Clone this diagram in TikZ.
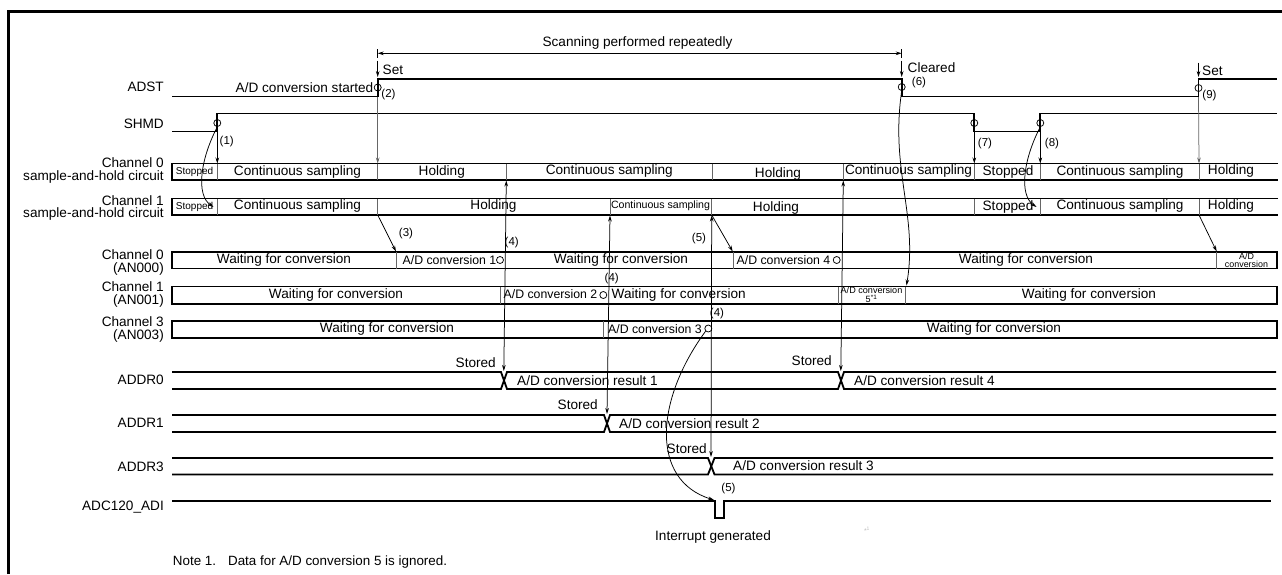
\documentclass[tikz,border=0pt]{standalone}
\usepackage{fontspec}
\setmainfont{Liberation Sans}
\usetikzlibrary{arrows.meta}
\newcommand\FS[1]{\fontsize{#1}{#1}\selectfont}
\tikzset{
  sig/.style={line width=1.8pt, line join=miter},
  divl/.style={line width=0.9pt, draw=black!60},
  arr/.style={line width=0.75pt, -{Stealth[length=6pt,width=3.6pt]}},
  darr/.style={line width=0.75pt, {Stealth[length=6pt,width=3.6pt]}-{Stealth[length=6pt,width=3.6pt]}},
  circ/.style={circle, draw, line width=0.75pt, minimum size=7pt, inner sep=0pt},
  txt/.style={inner sep=0pt, font=\FS{13.6}},
  sm/.style={inner sep=0pt, font=\FS{11.5}},
  mid/.style={inner sep=0pt, font=\FS{12.3}},
  lbl/.style={inner sep=0pt, anchor=east, align=right, font=\fontsize{13.6}{12.5}\selectfont},
}
\begin{document}
\begin{tikzpicture}[x=1pt,y=-1pt]
\useasboundingbox (0,0) rectangle (1282,574);
% frame
\draw[line width=3pt] (8.5,574) -- (8.5,11) -- (1282,11);

% row labels
\node[lbl] (lADST) at (164,87) {ADST};
\node[lbl] (lSHMD) at (164,124) {SHMD};
\node[lbl] (lC0SH) at (164,170.5) {Channel 0\\sample-and-hold circuit};
\node[lbl] (lC1SH) at (164,208) {Channel 1\\sample-and-hold circuit};
\node[lbl] (lAN0) at (164,262.5) {Channel 0\\(AN000)};
\node[lbl] (lAN1) at (164,294.5) {Channel 1\\(AN001)};
\node[lbl] (lAN3) at (164,329.5) {Channel 3\\(AN003)};
\node[lbl] (lR0) at (164,380) {ADDR0};
\node[lbl] (lR1) at (164,423) {ADDR1};
\node[lbl] (lR3) at (164,467) {ADDR3};
\node[lbl] (lADI) at (164,507) {ADC120\_ADI};

% scanning arrow
\coordinate (scL) at (377.7,53.3);
\coordinate (scR) at (901.7,53.3);
\draw[line width=0.8pt] (377.7,49) -- (377.7,58);
\draw[line width=0.8pt] (901.7,49) -- (901.7,58);
\draw[darr] (scL) -- (scR);
\node[txt] (scan) at (637.5,43.3) {Scanning performed repeatedly};

% ADST waveform
\draw[sig] (172,96.5) -- (377.7,96.5) -- (377.7,79) -- (901.7,79) -- (901.7,96.5) -- (1198.5,96.5) -- (1198.5,79) -- (1277,79);
\node[circ] (c2) at (377.7,87.5) {};
\node[circ] (c6) at (901.7,87) {};
\node[circ] (c9) at (1198.5,88) {};
\node[txt, anchor=east] (adst) at (373.5,88) {A/D conversion started};
\node[sm] (n2) at (388.5,94.5) {(2)};
\node[sm] (n6) at (919,83) {(6)};
\node[sm] (n9) at (1209.5,95.5) {(9)};
% Set / Cleared arrows
\coordinate (setA) at (377.7,60.5);
\coordinate (setB) at (377.7,77);
\draw[arr] (setA) -- (setB);
\node[txt, anchor=west] (set1) at (382.5,69.5) {Set};
\coordinate (clrA) at (901.7,60.5);
\coordinate (clrB) at (901.7,77);
\draw[arr] (clrA) -- (clrB);
\node[txt, anchor=west] (clr) at (907.5,67.7) {Cleared};
\coordinate (set2A) at (1198.5,62.5);
\coordinate (set2B) at (1198.5,77);
\draw[arr] (set2A) -- (set2B);
\node[txt, anchor=west] (set2) at (1202,70.7) {Set};

% SHMD waveform
\draw[sig] (172,131.5) -- (217.3,131.5) -- (217.3,113.5) -- (974.3,113.5) -- (974.3,131.5) -- (1040.3,131.5) -- (1040.3,113.5) -- (1277,113.5);
\node[circ] (c1) at (217.3,123) {};
\node[circ] (c7) at (974.3,123) {};
\node[circ] (c8) at (1040.3,123) {};
\node[sm] (n1) at (226.7,141.7) {(1)};
\node[sm] (n7) at (985,144) {(7)};
\node[sm] (n8) at (1052,144) {(8)};

% Channel 0 sample-and-hold
\draw[sig] (1278,163.5) -- (172,163.5) -- (172,180) -- (1278,180);
\foreach \x in {217.3,377.7,506,712.7,843.3,974.3,1040.3,1199} \draw[divl] (\x,163.5) -- (\x,180);
\node[inner sep=0pt, font=\FS{10}] (s0a) at (194.6,172) {Stopped};
\node[txt] (s0b) at (297.5,171.5) {Continuous sampling};
\node[txt] (s0c) at (441.8,171.5) {Holding};
\node[txt] (s0d) at (609.3,171) {Continuous sampling};
\node[txt] (s0e) at (778,173.5) {Holding};
\node[txt] (s0f) at (908.5,171) {Continuous sampling};
\node[txt] (s0g) at (1008,172) {Stopped};
\node[txt] (s0h) at (1120,171.5) {Continuous sampling};
\node[txt] (s0i) at (1231,170.7) {Holding};

% Channel 1 sample-and-hold
\draw[sig] (1278,198.5) -- (172,198.5) -- (172,215) -- (1278,215);
\foreach \x in {217.3,377.7,610,711.7,974.3,1040.3,1199} \draw[divl] (\x,198.5) -- (\x,215);
\node[inner sep=0pt, font=\FS{10}] (s1a) at (194.6,207) {Stopped};
\node[txt] (s1b) at (297.5,206) {Continuous sampling};
\node[txt] (s1c) at (493.5,206) {Holding};
\node[inner sep=0pt, font=\FS{10.6}] (s1d) at (660.5,205.5) {Continuous sampling};
\node[txt] (s1e) at (776,207.5) {Holding};
\node[txt] (s1f) at (1008,206.7) {Stopped};
\node[txt] (s1g) at (1120,206) {Continuous sampling};
\node[txt] (s1h) at (1231,205.5) {Holding};

% AN000
\draw[sig] (172,252) rectangle (1277,268.5);
\foreach \x in {396,733,1216.7} \draw[divl] (\x,252) -- (\x,268.5);
\node[txt] (a0a) at (284,259.8) {Waiting for conversion};
\node[mid, anchor=east] (a0b) at (496.5,259.8) {A/D conversion 1};
\node[txt] (a0c) at (621,259.8) {Waiting for conversion};
\node[mid, anchor=east] (a0d) at (830.5,259.8) {A/D conversion 4};
\node[txt] (a0e) at (1026,259.8) {Waiting for conversion};
\node[inner sep=0pt, align=center, font=\fontsize{8.9}{8}\selectfont] (a0f) at (1246.5,260.5) {A/D\\conversion};
\node[circ] (cA1) at (500,260) {};
\node[circ] (cA4) at (836.7,260) {};

% AN001
\draw[sig] (172,286.5) rectangle (1277,304);
\foreach \x in {500,838.3,905.7} \draw[divl] (\x,286.5) -- (\x,304);
\node[txt] (a1a) at (336,294.5) {Waiting for conversion};
\node[mid, anchor=east] (a1b) at (597.5,294.5) {A/D conversion 2};
\node[txt, anchor=west] (a1c) at (611.5,294.8) {Waiting for conversion};
\node[inner sep=0pt, align=center, font=\fontsize{9.1}{8}\selectfont] (a1d) at (871.5,295) {A/D conversion\\5\textsuperscript{*1}};
\node[txt] (a1e) at (1089,294.8) {Waiting for conversion};
\node[circ] (cA2) at (603.3,295) {};

% AN003
\draw[sig] (172,321) rectangle (1277,338.3);
\draw[divl] (603.3,321) -- (603.3,338.3);
\node[txt] (a3a) at (387,329.3) {Waiting for conversion};
\node[mid, anchor=east] (a3b) at (702,329) {A/D conversion 3};
\node[txt] (a3c) at (994,329.3) {Waiting for conversion};
\node[circ] (cA3) at (708.3,328.5) {};

% ADDR0
\draw[sig] (172,372) -- (501,372) -- (507,389) -- (838,389) -- (844,372) -- (1276,372);
\draw[sig] (172,389) -- (501,389) -- (507,372) -- (838,372) -- (844,389) -- (1276,389);
\node[txt, anchor=west] (r0a) at (517,380.5) {A/D conversion result 1};
\node[txt, anchor=west] (r0b) at (854,380.5) {A/D conversion result 4};
\node[txt, anchor=east] (st0a) at (496,362.7) {Stored};
\node[txt, anchor=east] (st0b) at (832,360.7) {Stored};
% ADDR1
\draw[sig] (172,415) -- (604,415) -- (610,432) -- (1276,432);
\draw[sig] (172,432) -- (604,432) -- (610,415) -- (1276,415);
\node[txt, anchor=west] (r1a) at (619,423.5) {A/D conversion result 2};
\node[txt, anchor=east] (st1) at (598,405) {Stored};
% ADDR3
\draw[sig] (172,458) -- (708,458) -- (714.5,474.5) -- (1273,474.5);
\draw[sig] (172,474.5) -- (708,474.5) -- (714.5,458) -- (1273,458);
\node[txt, anchor=west] (r3a) at (733,466) {A/D conversion result 3};
\node[txt, anchor=east] (st3) at (707,449) {Stored};
% ADC120_ADI
\draw[sig] (172,501) -- (715,501) -- (715,518) -- (724,518) -- (724,501) -- (1271,501);
\node[sm] (n5b) at (728.5,489) {(5)};
\node[txt] (intr) at (713,537) {Interrupt generated};
\node[inner sep=0pt, text=black!25, font=\FS{7}] (mark) at (867,530) {*\textsuperscript{1}};
\node[inner sep=0pt, anchor=west, font=\FS{13.4}] (note) at (172.7,561.7) {Note 1.\hspace{12pt}Data for A/D conversion 5 is ignored.};

% vertical connectors from ADST to Ch0 S&H
\coordinate (v2a) at (377.7,97);
\coordinate (v2b) at (377.7,163.5);
\draw[arr, draw=black!60] (v2a) -- (v2b);
\coordinate (v9a) at (1198.5,97);
\coordinate (v9b) at (1199,163.5);
\draw[arr, draw=black!60] (v9a) -- (v9b);
% (1), (7), (8)
\coordinate (v1a) at (217.3,132);
\coordinate (v1b) at (217.3,163.5);
\draw[arr] (v1a) -- (v1b);
\coordinate (v7a) at (974.3,132);
\coordinate (v7b) at (974.3,163.5);
\draw[arr] (v7a) -- (v7b);
\coordinate (v8a) at (1040.3,132);
\coordinate (v8b) at (1040.3,163.5);
\draw[arr] (v8a) -- (v8b);
% curves to Ch1 S&H
\coordinate (k1) at (213.5,207);
\draw[arr] (c1.south) .. controls (200,160) and (196,195) .. (k1);
\coordinate (k8) at (1036.5,207);
\draw[arr] (c8.south) .. controls (1023,160) and (1019,195) .. (k8);
% (3)
\coordinate (p3a) at (377.7,215);
\coordinate (p3b) at (396,251.5);
\draw[arr] (p3a) -- (p3b);
\node[sm] (n3) at (406,234) {(3)};
% (5)
\coordinate (p5a) at (711.7,215);
\coordinate (p5b) at (732.7,251.5);
\draw[arr] (p5a) -- (p5b);
\node[sm] (n5) at (699,238.7) {(5)};
% holding -> A/D conversion at end
\coordinate (p9a) at (1199,215);
\coordinate (p9b) at (1216.7,251.5);
\draw[arr] (p9a) -- (p9b);
% (4) double arrows
\coordinate (q1a) at (503.8,371);
\coordinate (q1b) at (506.3,180.5);
\draw[darr] (q1a) -- (q1b);
\node[sm] (n4a) at (511.7,243) {(4)};
\coordinate (q2a) at (607,414);
\coordinate (q2b) at (610,215.5);
\draw[darr] (q2a) -- (q2b);
\node[sm] (n4b) at (611.7,278.3) {(4)};
\coordinate (q3a) at (711,457);
\coordinate (q3b) at (711.7,215.5);
\draw[darr] (q3a) -- (q3b);
\node[sm] (n4c) at (717,313.3) {(4)};
\coordinate (q4a) at (840.8,371);
\coordinate (q4b) at (843.3,180.5);
\draw[darr] (q4a) -- (q4b);
% A/D 3 -> interrupt
\coordinate (ki) at (714,500);
\draw[arr] (cA3.south west) .. controls (655,400) and (650,480) .. (ki);
% (6) cleared -> A/D conversion 5
\coordinate (k6) at (906.5,285.5);
\draw[arr] (c6.south) .. controls (890,170) and (918,215) .. (k6);
\end{tikzpicture}
\end{document}
